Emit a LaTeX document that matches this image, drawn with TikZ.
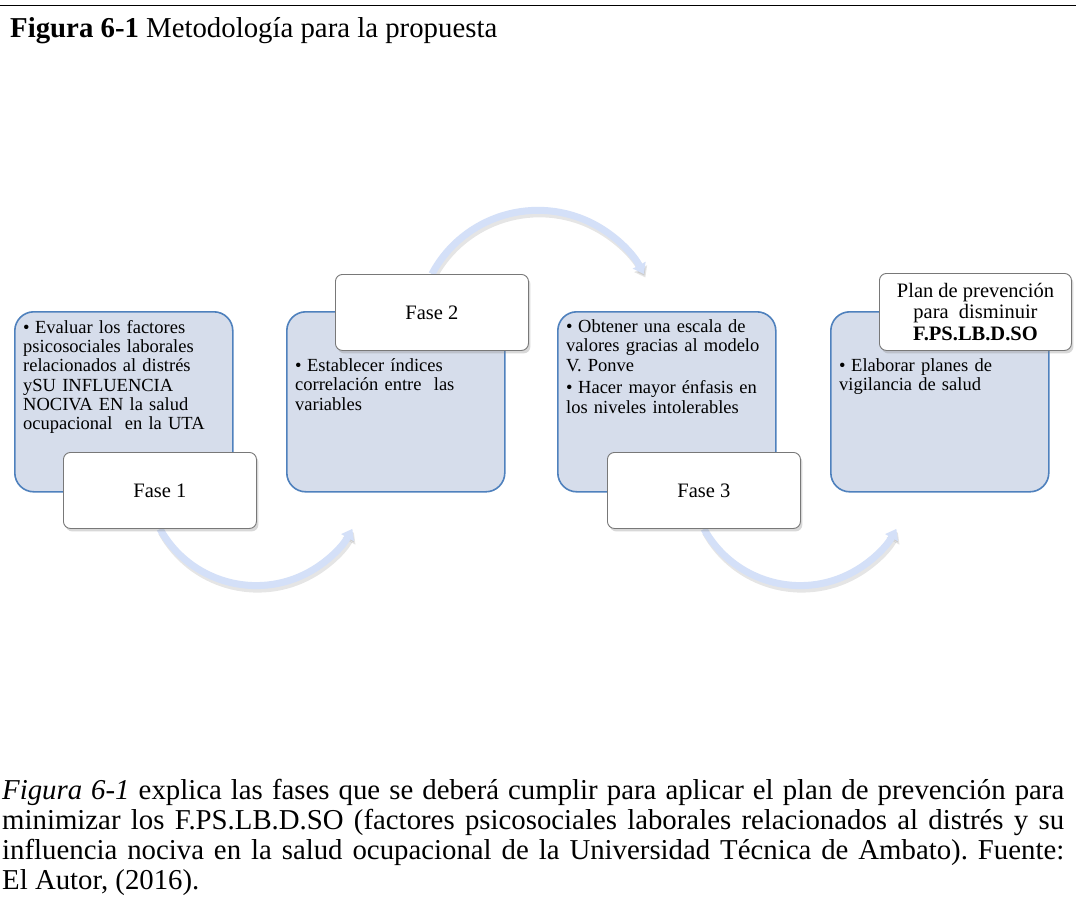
\documentclass[tikz,border=0pt]{standalone}
\usepackage{fontspec}
\setmainfont{Liberation Serif}
\usetikzlibrary{arrows.meta,shadows}
\frenchspacing

\definecolor{panelfill}{RGB}{214,221,235}
\definecolor{panelline}{RGB}{79,129,189}
\definecolor{arcblue}{RGB}{212,224,248}
\definecolor{tabline}{RGB}{120,120,120}

\pgfdeclarelayer{arrows}
\pgfsetlayers{arrows,main}

% one bullet point with a hanging indent
\newcommand{\bulletline}[1]{\hangindent=12pt\hangafter=1\noindent\makebox[12pt][l]{\textbullet}#1\par}

\tikzset{
  panel/.style={draw=panelline, line width=1.6pt, fill=panelfill, rounded corners=19pt,
    anchor=north west, inner sep=0pt, minimum width=218pt, minimum height=180pt},
  tab/.style={draw=tabline, line width=0.9pt, fill=white, rounded corners=7pt,
    anchor=north west, inner sep=0pt, minimum width=193pt, minimum height=76pt,
    drop shadow={shadow xshift=2pt, shadow yshift=-3pt, opacity=0.3},
    font=\fontsize{20.5pt}{21.5pt}\selectfont, align=center},
  body/.style={anchor=north west, inner sep=0pt, text width=205pt, align=left,
    font=\fontsize{18.5pt}{19.3pt}\selectfont},
  flow/.style={draw=arcblue, line width=7pt, -{Triangle[length=10pt,width=14pt]}},
  flowshade/.style={draw=black, opacity=0.10, line width=7pt,
    -{Triangle[length=10pt,width=14pt]}, transform canvas={xshift=1.5pt,yshift=-3.5pt}},
  caption/.style={inner sep=0pt, anchor=base west, font=\fontsize{28.8pt}{30pt}\selectfont}
}

\begin{document}
\begin{tikzpicture}[x=1pt,y=-1pt]
  \useasboundingbox (0,0) rectangle (1076,907);

  % rule above the figure title
  \coordinate (ruleL) at (0,5.5);
  \coordinate (ruleR) at (1076,5.5);
  \draw[line width=1.5pt] (ruleL) -- (ruleR);

  \node[caption] (title) at (10,38) {\textbf{Figura 6-1} Metodología para la propuesta};

  % phase panels
  \node[panel] (p1) at (14,311) {};
  \node[panel] (p2) at (286,311) {};
  \node[panel] (p3) at (557,311) {};
  \node[panel] (p4) at (830,311) {};

  \node[body] (t1) at (23,320) {\bulletline{Evaluar los factores\\psicosociales laborales\\relacionados al distrés\\ySU INFLUENCIA\\NOCIVA EN la salud\\ocupacional\ \ en la UTA}};
  \node[body] (t2) at (295,358.5) {\bulletline{Establecer índices\\correlación entre\ \ las\\variables}};
  \node[body] (t3) at (566,319.5) {\bulletline{Obtener una escala de\\valores gracias al modelo\\V. Ponve}\vspace{3.5pt}\bulletline{Hacer mayor énfasis en\\los niveles intolerables}};
  \node[body] (t4) at (839,358.5) {\bulletline{Elaborar planes de\\vigilancia de salud}};

  % phase labels
  \node[tab] (f1) at (63,452) {Fase 1};
  \node[tab] (f2) at (335,274) {Fase 2};
  \node[tab] (f3) at (607,452) {Fase 3};
  \node[tab, minimum height=77pt, minimum width=192pt] (f4) at (879,273)
    {Plan de prevención\\para\ \ disminuir\\\textbf{F.PS.LB.D.SO}};

  % curved arrows linking the phases, kept beneath the labels
  \begin{pgfonlayer}{arrows}
    \fill[white] (0,0) rectangle (1076,907);
    \draw[flowshade] (f1.south) arc[start angle=151, end angle=29, radius=110];
    \draw[flow] (f1.south) arc[start angle=151, end angle=29, radius=110];
    \draw[flowshade] (f2.north) arc[start angle=208, end angle=332, radius=120];
    \draw[flow] (f2.north) arc[start angle=208, end angle=332, radius=120];
    \draw[flowshade] (f3.south) arc[start angle=151, end angle=29, radius=110];
    \draw[flow] (f3.south) arc[start angle=151, end angle=29, radius=110];
  \end{pgfonlayer}

  % explanatory paragraph
  \node[caption] (note) at (2,799) {\parbox[t]{1062pt}{\fontsize{28.8pt}{30pt}\selectfont
    \textit{Figura 6-1} explica las fases que se deberá cumplir para aplicar el plan de prevención para\linebreak
    minimizar los F.PS.LB.D.SO (factores psicosociales laborales relacionados al distrés y su\linebreak
    influencia nociva en la salud ocupacional de la Universidad Técnica de Ambato). Fuente:\linebreak
    El Autor, (2016).}};
\end{tikzpicture}
\end{document}
